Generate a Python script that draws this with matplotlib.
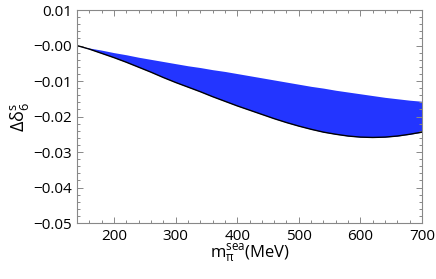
import matplotlib
matplotlib.use("Agg")
import matplotlib.pyplot as plt
from matplotlib.ticker import MultipleLocator

plt.rcParams['font.family'] = ['Open Sans', 'DejaVu Sans']
plt.rcParams['mathtext.fontset'] = 'custom'
plt.rcParams['mathtext.rm'] = 'Open Sans'
plt.rcParams['mathtext.it'] = 'Open Sans:italic'

# sea pion mass (MeV) and band edges
m_sea = [140, 160, 180, 200, 220, 240, 260, 280, 300, 320, 340, 360, 380, 400, 420,
         440, 460, 480, 500, 520, 540, 560, 580, 600, 620, 640, 660, 680, 700]
upper = [0.0, -0.0007, -0.0013, -0.0020, -0.0026, -0.0033, -0.0039, -0.0045,
         -0.0051, -0.0057, -0.0062, -0.0068, -0.0073, -0.0079, -0.0085, -0.0091,
         -0.0097, -0.0103, -0.0109, -0.0115, -0.0120, -0.0126, -0.0131, -0.0136,
         -0.0141, -0.0146, -0.0150, -0.0154, -0.0157]
lower = [0.0, -0.0010, -0.0022, -0.0034, -0.0047, -0.0061, -0.0075, -0.0090,
         -0.0104, -0.0117, -0.0130, -0.0144, -0.0157, -0.0170, -0.0182, -0.0194,
         -0.0206, -0.0217, -0.0227, -0.0236, -0.0244, -0.0250, -0.0255, -0.0258,
         -0.0259, -0.0258, -0.0255, -0.0250, -0.0244]

fig = plt.figure(figsize=(4.36, 2.79), dpi=100)
ax = fig.add_axes([0.1766, 0.2007, 0.7914, 0.7633])

ax.fill_between(m_sea, lower, upper, color='#2335ff', lw=0)
ax.plot(m_sea, lower, color='black', lw=1.0)

ax.set_xlim(140, 700)
ax.set_ylim(-0.05, 0.01)
ax.xaxis.set_major_locator(MultipleLocator(100))
ax.xaxis.set_minor_locator(MultipleLocator(20))
ax.yaxis.set_major_locator(MultipleLocator(0.01))
ax.yaxis.set_minor_locator(MultipleLocator(0.002))
ax.yaxis.set_major_formatter(plt.FuncFormatter(lambda v, p: f'{v:.2f}'.replace('-', '\u2212')))

gray = '#888888'
for s in ax.spines.values():
    s.set_color(gray)
    s.set_linewidth(0.8)
ax.tick_params(which='both', direction='in', top=True, right=True, colors=gray,
               labelcolor='black', labelsize=11, width=0.7)
ax.tick_params(which='major', length=4.5)
ax.tick_params(which='minor', length=2.5)
ax.tick_params(axis='x', pad=4)

ax.set_xlabel(r'$\mathrm{m_{\pi}^{sea}}$(MeV)', fontsize=12, labelpad=-1)
ax.set_ylabel(r'$\mathrm{\Delta\delta_6^{s}}$', fontsize=13, labelpad=2)

fig.savefig('out.png', dpi=100)
